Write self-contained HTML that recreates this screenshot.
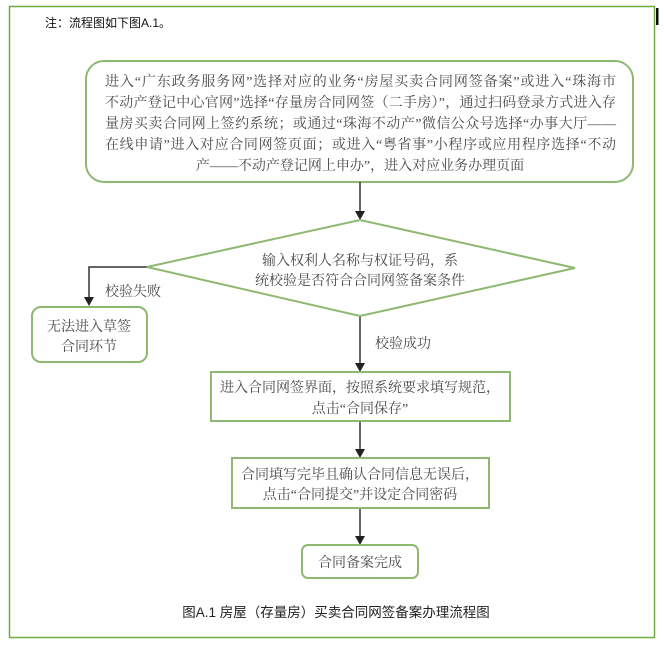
<!DOCTYPE html>
<html><head><meta charset="utf-8"><style>
html,body{margin:0;padding:0;background:#fff;}
svg{display:block;}
text{font-family:"Liberation Serif","Noto Serif CJK SC","Noto Sans CJK SC",serif;fill:#4a4a4a;font-size:14px;}
</style></head><body>
<svg width="664" height="645" viewBox="0 0 664 645" xmlns="http://www.w3.org/2000/svg">
<rect x="9.5" y="6.5" width="645" height="631" fill="#fff" stroke="#6fae43" stroke-width="1.5"/>
<rect x="656" y="8" width="2.5" height="17" fill="#111"/>
<text x="45" y="27" style="font-family:'Liberation Sans','Noto Sans CJK SC',sans-serif;font-size:12px;fill:#111">注：流程图如下图A.1。</text>

<rect x="86" y="61" width="547" height="121" rx="18" fill="#fff" stroke="#8fb870" stroke-width="2"/>
<text x="105" y="86" textLength="511" lengthAdjust="spacing">进入“广东政务服务网”选择对应的业务“房屋买卖合同网签备案”或进入“珠海市</text>
<text x="105" y="107" textLength="511" lengthAdjust="spacing">不动产登记中心官网”选择“存量房合同网签（二手房）”，通过扫码登录方式进入存</text>
<text x="105" y="128" textLength="511" lengthAdjust="spacing">量房买卖合同网上签约系统；或通过“珠海不动产”微信公众号选择“办事大厅——</text>
<text x="105" y="149" textLength="511" lengthAdjust="spacing">在线申请”进入对应合同网签页面；或进入“粤省事”小程序或应用程序选择“不动</text>
<text x="360" y="170" text-anchor="middle">产——不动产登记网上申办”，进入对应业务办理页面</text>

<g stroke="#333" stroke-width="1.5" fill="none">
<line x1="360" y1="182" x2="360" y2="212"/>
<polyline points="147,267 89,267 89,298"/>
<line x1="360" y1="316" x2="360" y2="364"/>
<line x1="360" y1="421" x2="360" y2="450"/>
<line x1="360" y1="508" x2="360" y2="537"/>
</g>
<g fill="#222">
<polygon points="355,211 365,211 360,220"/>
<polygon points="84,297 94,297 89,306"/>
<polygon points="355,363 365,363 360,372"/>
<polygon points="355,449 365,449 360,458"/>
<polygon points="355,536 365,536 360,545"/>
</g>

<polygon points="147,267 360,220 575,268 360,316" fill="#fff" stroke="#8fb870" stroke-width="2"/>
<text x="360" y="265" text-anchor="middle">输入权利人名称与权证号码，系</text>
<text x="360" y="285" text-anchor="middle">统校验是否符合合同网签备案条件</text>

<text x="105" y="296">校验失败</text>
<rect x="32" y="307" width="115" height="55" rx="9" fill="#fff" stroke="#8fb870" stroke-width="2"/>
<text x="89" y="331" text-anchor="middle">无法进入草签</text>
<text x="89" y="351" text-anchor="middle">合同环节</text>

<text x="375" y="348">校验成功</text>
<rect x="211" y="372" width="299" height="49" fill="#fff" stroke="#8fb870" stroke-width="2"/>
<text x="360" y="392" text-anchor="middle">进入合同网签界面，按照系统要求填写规范，</text>
<text x="360" y="413" text-anchor="middle">点击“合同保存”</text>

<rect x="232" y="458" width="257" height="50" fill="#fff" stroke="#8fb870" stroke-width="2"/>
<text x="360" y="479" text-anchor="middle">合同填写完毕且确认合同信息无误后，</text>
<text x="360" y="499" text-anchor="middle">点击“合同提交”并设定合同密码</text>

<rect x="302" y="545" width="116" height="33" rx="6" fill="#fff" stroke="#8fb870" stroke-width="2"/>
<text x="360" y="567" text-anchor="middle">合同备案完成</text>

<text x="336" y="617" text-anchor="middle" style="font-family:'Liberation Sans','Noto Sans CJK SC',sans-serif;font-size:13.5px;fill:#222">图A.1 房屋（存量房）买卖合同网签备案办理流程图</text>
</svg>
</body></html>
